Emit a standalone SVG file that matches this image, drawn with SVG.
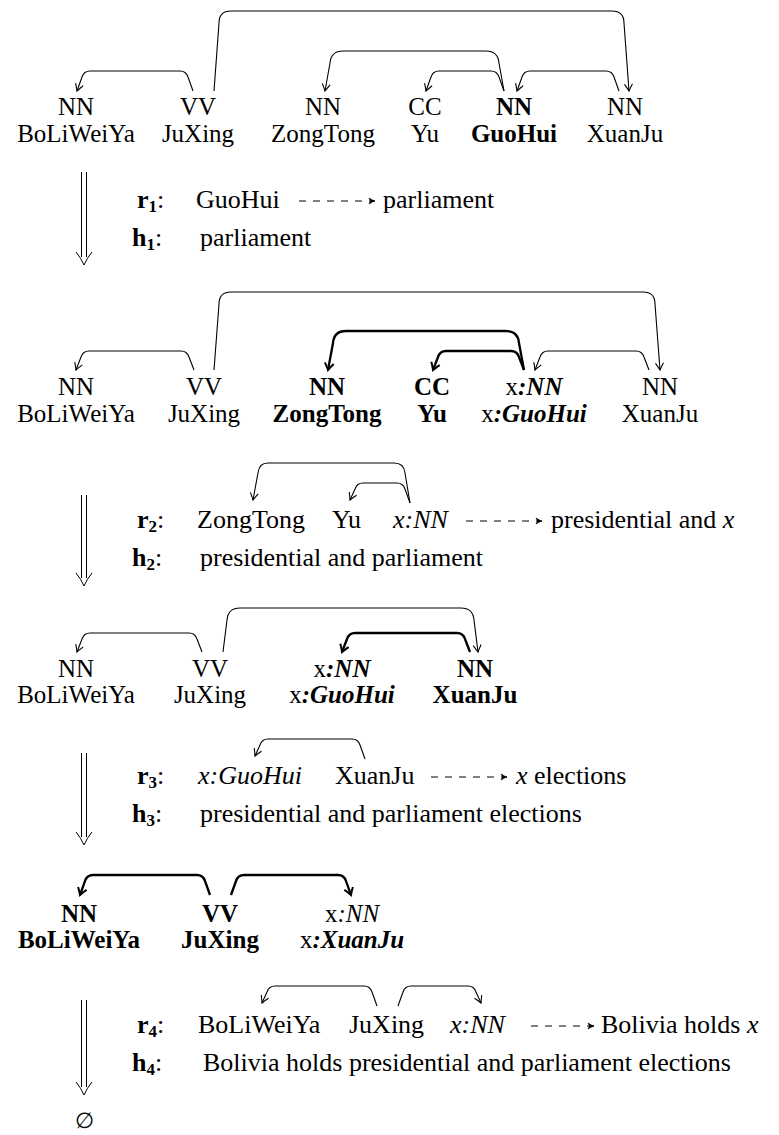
<svg xmlns="http://www.w3.org/2000/svg" width="779" height="1135" viewBox="0 0 779 1135">
<style>
text{font-family:'Liberation Serif','Tinos','DejaVu Serif',serif;fill:#000}
.t{font-size:25px;text-anchor:middle}
.r{font-size:26px}
.b{font-weight:bold}
.i{font-style:italic}
.sub{font-size:17px;font-weight:bold}
.e{fill:none;stroke:#000;stroke-width:1.1;marker-end:url(#ah)}
.eb{fill:none;stroke:#000;stroke-width:2.3;marker-end:url(#ahb)}
.d{fill:none;stroke:#000;stroke-width:1;stroke-dasharray:7,7;marker-end:url(#ahd)}
.da{fill:none;stroke:#000;stroke-width:1}
</style>
<defs>
<marker id="ah" viewBox="-10 -6 12 12" refX="0" refY="0" markerWidth="12" markerHeight="12" markerUnits="userSpaceOnUse" orient="auto" overflow="visible"><path d="M-7,-4 Q-2,-1 0,0 Q-2,1 -7,4" fill="none" stroke="#000" stroke-width="1.1"/></marker>
<marker id="ahb" viewBox="-10 -6 12 12" refX="0" refY="0" markerWidth="12" markerHeight="12" markerUnits="userSpaceOnUse" orient="auto" overflow="visible"><path d="M-7,-4.5 Q-2,-1 0,0 Q-2,1 -7,4.5" fill="none" stroke="#000" stroke-width="2"/></marker>
<marker id="ahd" viewBox="-10 -6 12 12" refX="0" refY="0" markerWidth="12" markerHeight="12" markerUnits="userSpaceOnUse" orient="auto" overflow="visible"><path d="M-6,-3 Q-2,-0.5 0,0 Q-2,0.5 -6,3 L-4.5,0 Z" fill="#000" stroke="#000" stroke-width="0.6"/></marker>
</defs>

<!-- Section 1 -->
<g id="s1-n1"><text class="t" x="76" y="115">NN</text><text class="t" x="76" y="142">BoLiWeiYa</text></g>
<g id="s1-n2"><text class="t" x="198" y="115">VV</text><text class="t" x="198" y="142">JuXing</text></g>
<g id="s1-n3"><text class="t" x="323" y="115">NN</text><text class="t" x="323" y="142">ZongTong</text></g>
<g id="s1-n4"><text class="t" x="425" y="115">CC</text><text class="t" x="425" y="142">Yu</text></g>
<g id="s1-n5"><text class="t b" x="514" y="115">NN</text><text class="t b" x="514" y="142">GuoHui</text></g>
<g id="s1-n6"><text class="t" x="625" y="115">NN</text><text class="t" x="625" y="142">XuanJu</text></g>

<!-- Section 2 -->
<g id="s2-n1"><text class="t" x="76" y="395">NN</text><text class="t" x="76" y="422">BoLiWeiYa</text></g>
<g id="s2-n2"><text class="t" x="204" y="395">VV</text><text class="t" x="204" y="422">JuXing</text></g>
<g id="s2-n3"><text class="t b" x="327" y="395">NN</text><text class="t b" x="327" y="422">ZongTong</text></g>
<g id="s2-n4"><text class="t b" x="432" y="395">CC</text><text class="t b" x="432" y="422">Yu</text></g>
<g id="s2-n5"><text class="t" x="534" y="395">x<tspan class="b i">:NN</tspan></text><text class="t" x="534" y="422">x<tspan class="b i">:GuoHui</tspan></text></g>
<g id="s2-n6"><text class="t" x="660" y="395">NN</text><text class="t" x="660" y="422">XuanJu</text></g>

<!-- Section 3 -->
<g id="s3-n1"><text class="t" x="76" y="677">NN</text><text class="t" x="76" y="703">BoLiWeiYa</text></g>
<g id="s3-n2"><text class="t" x="210" y="677">VV</text><text class="t" x="210" y="703">JuXing</text></g>
<g id="s3-n3"><text class="t" x="342" y="677">x<tspan class="b i">:NN</tspan></text><text class="t" x="342" y="703">x<tspan class="b i">:GuoHui</tspan></text></g>
<g id="s3-n4"><text class="t b" x="475" y="677">NN</text><text class="t b" x="475" y="703">XuanJu</text></g>

<!-- Section 4 -->
<g id="s4-n1"><text class="t b" x="79" y="922">NN</text><text class="t b" x="79" y="948">BoLiWeiYa</text></g>
<g id="s4-n2"><text class="t b" x="220" y="922">VV</text><text class="t b" x="220" y="948">JuXing</text></g>
<g id="s4-n3"><text class="t" x="352" y="922">x<tspan class="i">:NN</tspan></text><text class="t" x="352" y="948">x<tspan class="b i">:XuanJu</tspan></text></g>

<!-- Rules and hypotheses -->
<g id="rule1">
<text class="r" x="137" y="208"><tspan class="b">r</tspan><tspan class="sub" dy="4">1</tspan><tspan dy="-4">:</tspan></text>
<text class="r" x="196" y="208">GuoHui</text>
<text class="r" x="383" y="208">parliament</text>
</g>
<g id="hyp1">
<text class="r" x="132" y="246"><tspan class="b">h</tspan><tspan class="sub" dy="4">1</tspan><tspan dy="-4">:</tspan></text>
<text class="r" x="200" y="246">parliament</text>
</g>
<g id="rule2">
<text class="r" x="137" y="528"><tspan class="b">r</tspan><tspan class="sub" dy="4">2</tspan><tspan dy="-4">:</tspan></text>
<text class="r" x="197" y="528">ZongTong</text>
<text class="r" x="332" y="528">Yu</text>
<text class="r i" x="393" y="528">x:NN</text>
<text class="r" x="551" y="528">presidential and <tspan class="i">x</tspan></text>
</g>
<g id="hyp2">
<text class="r" x="132" y="566"><tspan class="b">h</tspan><tspan class="sub" dy="4">2</tspan><tspan dy="-4">:</tspan></text>
<text class="r" x="200" y="566">presidential and parliament</text>
</g>
<g id="rule3">
<text class="r" x="137" y="784"><tspan class="b">r</tspan><tspan class="sub" dy="4">3</tspan><tspan dy="-4">:</tspan></text>
<text class="r i" x="198" y="784">x:GuoHui</text>
<text class="r" x="335" y="784">XuanJu</text>
<text class="r" x="516" y="784"><tspan class="i">x</tspan> elections</text>
</g>
<g id="hyp3">
<text class="r" x="132" y="822"><tspan class="b">h</tspan><tspan class="sub" dy="4">3</tspan><tspan dy="-4">:</tspan></text>
<text class="r" x="200" y="822">presidential and parliament elections</text>
</g>
<g id="rule4">
<text class="r" x="137" y="1033"><tspan class="b">r</tspan><tspan class="sub" dy="4">4</tspan><tspan dy="-4">:</tspan></text>
<text class="r" x="198" y="1033">BoLiWeiYa</text>
<text class="r" x="349" y="1033">JuXing</text>
<text class="r i" x="450" y="1033">x:NN</text>
<text class="r" x="601" y="1033">Bolivia holds <tspan class="i">x</tspan></text>
</g>
<g id="hyp4">
<text class="r" x="132" y="1071"><tspan class="b">h</tspan><tspan class="sub" dy="4">4</tspan><tspan dy="-4">:</tspan></text>
<text class="r" x="203" y="1071">Bolivia holds presidential and parliament elections</text>
</g>
<g id="empty"><text x="84" y="1128" style="font-size:22px;text-anchor:middle">∅</text></g>

<!-- Connectors -->
<g id="connectors">
<!-- section 1 -->
<path class="e" d="M214,91 L219,23 Q219,11 231,11 L612,11 Q624,11 624,23 L629,91"/>
<path class="e" d="M193,91 L188,77 Q186,71 180,71 L90,71 Q84,71 82,77 L77,91"/>
<path class="e" d="M504,91 L499,63 Q498,51 486,51 L343,51 Q331,51 330,63 L325,91"/>
<path class="e" d="M504,91 L499,77 Q497,71 491,71 L439,71 Q433,71 431,77 L426,91"/>
<path class="e" d="M619,91 L614,77 Q612,71 606,71 L530,71 Q524,71 522,77 L517,91"/>
<!-- section 2 -->
<path class="e" d="M214,370 L219,304 Q219,292 231,292 L643,292 Q655,292 655,304 L660,370"/>
<path class="e" d="M194,370 L189,357 Q187,351 181,351 L89,351 Q83,351 81,357 L76,370"/>
<path class="eb" d="M524,370 L519,343 Q518,331 506,331 L346,331 Q334,331 333,343 L328,370"/>
<path class="eb" d="M524,370 L519,357 Q517,351 511,351 L446,351 Q440,351 438,357 L433,370"/>
<path class="e" d="M649,370 L644,357 Q642,351 636,351 L548,351 Q542,351 540,357 L535,370"/>
<!-- rule 2 -->
<path class="e" d="M410,503 L405,473 Q404,463 394,463 L268,463 Q259,463 258,473 L253,500"/>
<path class="e" d="M410,503 L405,489 Q403,483 397,483 L363,483 Q357,483 355,489 L350,500"/>
<!-- section 3 -->
<path class="e" d="M202,652 L197,639 Q195,633 189,633 L90,633 Q84,633 82,639 L77,652"/>
<path class="e" d="M223,652 L227,620 Q228,608 240,608 L461,608 Q473,608 474,620 L478,652"/>
<path class="eb" d="M470,652 L465,639 Q463,633 457,633 L355,633 Q349,633 347,639 L342,652"/>
<!-- rule 3 -->
<path class="e" d="M365,759 L360,745 Q358,739 352,739 L268,739 Q262,739 260,745 L255,756"/>
<!-- section 4 -->
<path class="eb" d="M210,895 L205,881 Q203,875 197,875 L93,875 Q87,875 85,881 L80,895"/>
<path class="eb" d="M231,895 L236,881 Q238,875 244,875 L338,875 Q344,875 346,881 L351,895"/>
<!-- rule 4 -->
<path class="e" d="M377,1006 L372,992 Q370,986 364,986 L275,986 Q269,986 267,992 L262,1003"/>
<path class="e" d="M398,1006 L403,992 Q405,986 411,986 L468,986 Q474,986 476,992 L481,1003"/>
<!-- dashed rule arrows -->
<path class="d" d="M299,201 L375,201"/>
<path class="d" d="M466,521 L542,521"/>
<path class="d" d="M431,777 L507,777"/>
<path class="d" d="M531,1026 L594,1026"/>
<!-- double derivation arrows -->
<g class="da">
<path d="M81.5,172 L81.5,257 M86.5,172 L86.5,257 M76,252 Q81,258 84,265 Q87,258 92,252"/>
<path d="M81.5,495 L81.5,578 M86.5,495 L86.5,578 M76,573 Q81,579 84,586 Q87,579 92,573"/>
<path d="M81.5,753 L81.5,837 M86.5,753 L86.5,837 M76,832 Q81,838 84,845 Q87,838 92,832"/>
<path d="M81.5,1000 L81.5,1087 M86.5,1000 L86.5,1087 M76,1082 Q81,1088 84,1095 Q87,1088 92,1082"/>
</g>
</g>
</svg>
